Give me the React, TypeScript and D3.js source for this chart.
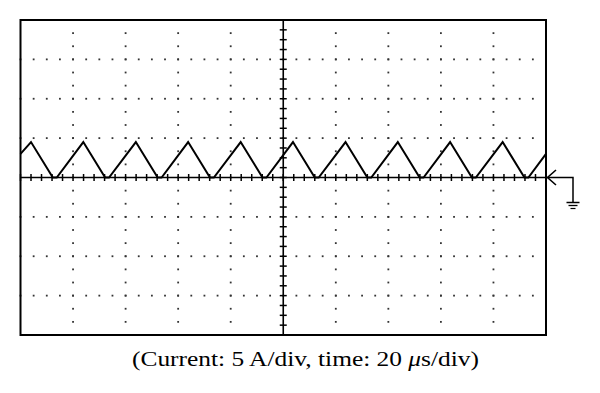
// @ts-nocheck
import * as d3 from "d3";

const width = 600;
const height = 393;
const screen = { left: 20.5, right: 546, top: 20, bottom: 335 };

// time in µs (20 µs/div, 10 div), current in A (5 A/div, 8 div)
const timeDomain = [0, 200];
const currentDomain = [-20, 20];
const timePerDiv = 20;
const ampPerDiv = 5;

// triangle-wave vertices
const waveTime = [
  0, 4.0, 12.3, 13.8, 23.9, 32.2, 33.7, 43.9, 52.2, 53.7, 63.8, 72.1, 73.6,
  83.8, 92.1, 93.6, 103.7, 112.0, 113.5, 123.7, 132.0, 133.5, 143.6, 151.9,
  153.4, 163.5, 171.8, 173.3, 183.5, 191.8, 193.3, 200,
];
const waveCurrent = [
  3.0, 4.5, 0, 0, 4.5, 0, 0, 4.5, 0, 0, 4.5, 0, 0, 4.5, 0, 0, 4.5, 0, 0, 4.5,
  0, 0, 4.5, 0, 0, 4.5, 0, 0, 4.5, 0, 0, 3.0,
];

const caption = ["(Current: 5 A/div, time: 20 ", "μ", "s/div)"];

export default function App() {
  const x = d3.scaleLinear(timeDomain, [screen.left, screen.right]);
  const y = d3.scaleLinear(currentDomain, [screen.bottom, screen.top]);
  const x0 = x(100);
  const y0 = y(0);

  const vGrid = d3.range(timePerDiv, 200, timePerDiv).filter((t) => t !== 100);
  const hGrid = d3.range(-15, 20, ampPerDiv).filter((c) => c !== 0);
  const vDots = d3.range(-20, 20.01, ampPerDiv / 3);
  const hDots = d3.range(0, 200.01, timePerDiv / 4);
  const xTicks = d3.range(0, 200.01, timePerDiv / 5);
  const yTicks = d3.range(-20, 20.01, ampPerDiv / 4);

  const pts = waveTime.map((t, i) => [t, waveCurrent[i]]);
  const line = d3.line().x((d) => x(d[0])).y((d) => y(d[1]));

  const gx = screen.right + 27;
  const gy = y0 + 25;

  return (
    <svg width={width} height={height} style={{ position: "absolute", left: 0, top: 0 }}>
      <rect width={width} height={height} fill="#fff" />
      {/* dotted grid */}
      {vGrid.map((t) =>
        vDots.map((c, j) => (
          <rect key={`v${t}-${j}`} x={x(t) - 0.9} y={y(c) - 0.9} width={1.8} height={1.8} fill="#333" />
        ))
      )}
      {hGrid.map((c) =>
        hDots.map((t, j) => (
          <rect key={`h${c}-${j}`} x={x(t) - 0.9} y={y(c) - 0.9} width={1.8} height={1.8} fill="#333" />
        ))
      )}
      {/* center axes with ticks */}
      <line x1={screen.left} x2={screen.right} y1={y0} y2={y0} stroke="#000" strokeWidth={1.6} />
      <line x1={x0} x2={x0} y1={screen.top} y2={screen.bottom} stroke="#000" strokeWidth={1.6} />
      {xTicks.map((t) => (
        <line key={`xt${t}`} x1={x(t)} x2={x(t)} y1={y0 - 3.5} y2={y0 + 3.5} stroke="#000" strokeWidth={1.5} />
      ))}
      {yTicks.map((c) => (
        <line key={`yt${c}`} x1={x0 - 3.5} x2={x0 + 3.5} y1={y(c)} y2={y(c)} stroke="#000" strokeWidth={1.5} />
      ))}
      {/* trace */}
      <path d={line(pts)} fill="none" stroke="#000" strokeWidth={2} strokeLinejoin="miter" />
      {/* frame */}
      <rect
        x={screen.left}
        y={screen.top}
        width={screen.right - screen.left}
        height={screen.bottom - screen.top}
        fill="none"
        stroke="#000"
        strokeWidth={2}
      />
      {/* ground marker */}
      <path
        d={`M${screen.right + 10},${y0 - 7.5} L${screen.right + 1.5},${y0} L${screen.right + 10},${y0 + 7.5}`}
        fill="none"
        stroke="#000"
        strokeWidth={1.6}
      />
      <path d={`M${screen.right + 1.5},${y0} H${gx} V${gy}`} fill="none" stroke="#000" strokeWidth={1.5} />
      <line x1={gx - 6.5} x2={gx + 6.5} y1={gy} y2={gy} stroke="#000" strokeWidth={1.5} />
      <line x1={gx - 4.5} x2={gx + 4.5} y1={gy + 3} y2={gy + 3} stroke="#000" strokeWidth={1.3} />
      <line x1={gx - 2.5} x2={gx + 2.5} y1={gy + 6} y2={gy + 6} stroke="#000" strokeWidth={1.2} />
      {/* caption */}
      <text
        x={132}
        y={366}
        textLength={347}
        lengthAdjust="spacingAndGlyphs"
        fontFamily="'Liberation Serif', 'DejaVu Serif', serif"
        fontSize={20}
        fill="#000"
      >
        {caption[0]}
        <tspan fontStyle="italic">{caption[1]}</tspan>
        {caption[2]}
      </text>
    </svg>
  );
}
